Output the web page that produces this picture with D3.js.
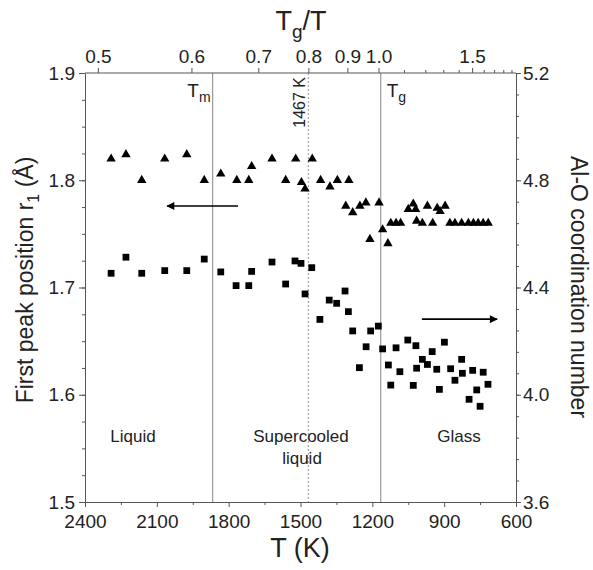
<!DOCTYPE html>
<html lang="en">
<head>
<meta charset="utf-8">
<title>Al-O first peak and coordination</title>
<script src="https://d3js.org/d3.v7.min.js"></script>
<style>
  body { margin: 0; background: #fff; }
  svg text { font-family: "Liberation Sans", Arial, sans-serif; fill: #222; }
  .axis path, .axis line { stroke: #555; }
</style>
</head>
<body>
<div id="chart"></div>
<script>

// ---- data ----
// triangles: first peak position r1 (left axis)
var triT  = [2291, 2229, 2163, 2067, 1975, 1902, 1833, 1766, 1716, 1704, 1619, 1562, 1520, 1496, 1481,
             1451, 1416, 1377, 1346, 1298, 1311, 1282, 1252, 1227, 1172, 1210, 1157, 1135, 1123, 1101,
             1082, 1050, 1029, 1019, 1015, 991, 970, 948, 929, 917, 896, 876, 855, 827, 799, 778, 758, 737, 716];
var triR1 = [1.820, 1.824, 1.800, 1.820, 1.824, 1.800, 1.806, 1.800, 1.800, 1.813, 1.820, 1.800, 1.820, 1.798, 1.792,
             1.820, 1.800, 1.794, 1.800, 1.800, 1.776, 1.770, 1.776, 1.779, 1.779, 1.745, 1.754, 1.741, 1.760, 1.760,
             1.760, 1.773, 1.778, 1.773, 1.762, 1.760, 1.776, 1.760, 1.774, 1.771, 1.776, 1.760, 1.760, 1.760, 1.760, 1.760, 1.760, 1.760, 1.760];

// squares: Al-O coordination number (right axis)
var sqT  = [2291, 2229, 2163, 2067, 1975, 1902, 1833, 1769, 1716, 1704, 1619, 1562, 1523, 1498, 1481, 1453,
            1419, 1380, 1349, 1314, 1300, 1282, 1254, 1226, 1207, 1175, 1157, 1133, 1123, 1101, 1085, 1052,
            1029, 1018, 1015, 991, 970, 950, 931, 920, 899, 873, 855, 827, 824, 796, 781, 764, 750, 737, 717];
var sqCN = [4.453, 4.513, 4.453, 4.463, 4.463, 4.506, 4.458, 4.407, 4.407, 4.460, 4.495, 4.413, 4.499, 4.490, 4.376, 4.474,
            4.281, 4.353, 4.341, 4.387, 4.310, 4.238, 4.101, 4.179, 4.238, 4.256, 4.171, 4.111, 4.036, 4.175, 4.086, 4.204,
            4.035, 4.183, 4.099, 4.132, 4.113, 4.161, 4.095, 4.020, 4.196, 4.097, 4.054, 4.132, 4.080, 3.983, 4.091, 4.018, 3.957, 4.084, 4.039];

// axis ticks
var tTicks      = [2400, 2100, 1800, 1500, 1200, 900, 600];
var tMinor      = [2250, 1950, 1650, 1350, 1050, 750];
var r1Ticks     = [1.5, 1.6, 1.7, 1.8, 1.9];
var cnTicks     = [3.6, 4.0, 4.4, 4.8, 5.2];
var tgMajor     = [0.5, 0.6, 0.7, 0.8, 0.9, 1.0, 1.5];
var tgMinor     = [1.1, 1.2, 1.3, 1.4, 1.6, 1.7, 1.8, 1.9];

// reference temperatures
var Tg = 1172, TgLine = 1165, Tm = 1867, Tx = 1467;

// ---- layout ----
var width = 593, height = 570;
var pLeft = 85, pRight = 516, pTop = 73, pBottom = 502;

var svg = d3.select("#chart").append("svg")
    .attr("width", width)
    .attr("height", height);

var x = d3.scaleLinear().domain([2400, 600]).range([pLeft, pRight]);
var yL = d3.scaleLinear().domain([1.5, 1.9]).range([pBottom, pTop]);
var yR = d3.scaleLinear().domain([3.6, 5.2]).range([pBottom, pTop]);

// reference lines
svg.append("line")
    .attr("x1", x(Tm)).attr("x2", x(Tm))
    .attr("y1", pTop).attr("y2", pBottom)
    .style("stroke", "#999").style("stroke-width", 1.2);
svg.append("line")
    .attr("x1", x(TgLine)).attr("x2", x(TgLine))
    .attr("y1", pTop).attr("y2", pBottom)
    .style("stroke", "#999").style("stroke-width", 1.2);
svg.append("line")
    .attr("x1", x(Tx)).attr("x2", x(Tx))
    .attr("y1", pTop).attr("y2", pBottom)
    .style("stroke", "#aaa").style("stroke-width", 1.3)
    .style("stroke-dasharray", "2,2");

// bottom axis
svg.append("g").attr("class", "axis")
    .attr("transform", "translate(0," + pBottom + ")")
    .call(d3.axisBottom(x).tickValues(tTicks).tickSize(5).tickSizeOuter(0).tickPadding(8).tickFormat(d3.format("d")))
    .call(g => g.selectAll("text").style("font-size", "19px"));
svg.append("g").attr("class", "axis")
    .attr("transform", "translate(0," + pBottom + ")")
    .call(d3.axisBottom(x).tickValues(tMinor).tickSize(3).tickSizeOuter(0).tickFormat(""))
    .call(g => g.select(".domain").remove());

// left axis
svg.append("g").attr("class", "axis")
    .attr("transform", "translate(" + pLeft + ",0)")
    .call(d3.axisLeft(yL).tickValues(r1Ticks).tickSize(6).tickSizeOuter(0).tickPadding(4).tickFormat(d3.format(".1f")))
    .call(g => g.selectAll("text").style("font-size", "19px"));
svg.append("g").attr("class", "axis")
    .attr("transform", "translate(" + pLeft + ",0)")
    .call(d3.axisLeft(yL).tickValues(d3.range(1.525, 1.9, 0.025)).tickSize(3).tickSizeOuter(0).tickFormat(""))
    .call(g => g.select(".domain").remove());

// right axis
svg.append("g").attr("class", "axis")
    .attr("transform", "translate(" + pRight + ",0)")
    .call(d3.axisRight(yR).tickValues(cnTicks).tickSize(5).tickSizeOuter(0).tickPadding(2).tickFormat(d3.format(".1f")))
    .call(g => g.selectAll("text").style("font-size", "19px"));
svg.append("g").attr("class", "axis")
    .attr("transform", "translate(" + pRight + ",0)")
    .call(d3.axisRight(yR).tickValues(d3.range(3.68, 5.19, 0.08)).tickSize(3).tickSizeOuter(0).tickFormat(""))
    .call(g => g.select(".domain").remove());

// top axis: Tg/T, position from the T scale
var topAxis = svg.append("g").attr("class", "axis");
topAxis.append("line")
    .attr("x1", pLeft).attr("x2", pRight)
    .attr("y1", pTop).attr("y2", pTop);
topAxis.selectAll(".major")
    .data(tgMajor).enter().append("line")
    .attr("class", "major")
    .attr("x1", d => x(Tg / d)).attr("x2", d => x(Tg / d))
    .attr("y1", pTop).attr("y2", pTop - 5);
topAxis.selectAll(".minor")
    .data(tgMinor).enter().append("line")
    .attr("class", "minor")
    .attr("x1", d => x(Tg / d)).attr("x2", d => x(Tg / d))
    .attr("y1", pTop).attr("y2", pTop - 3);
topAxis.selectAll("text")
    .data(tgMajor).enter().append("text")
    .attr("x", d => x(Tg / d))
    .attr("y", pTop - 10)
    .attr("text-anchor", "middle")
    .style("font-size", "19px")
    .text(d => d3.format(".1f")(d));

// markers
svg.append("g").selectAll("path")
    .data(triT).enter().append("path")
    .attr("transform", (d, i) => "translate(" + x(d) + "," + yL(triR1[i]) + ")")
    .attr("d", d3.symbol().type(d3.symbolTriangle).size(38))
    .style("fill", "#000");
svg.append("g").selectAll("path")
    .data(sqT).enter().append("path")
    .attr("transform", (d, i) => "translate(" + x(d) + "," + yR(sqCN[i]) + ")")
    .attr("d", d3.symbol().type(d3.symbolSquare).size(46))
    .style("fill", "#000");

// arrows
var defs = svg.append("defs");
defs.append("marker")
    .attr("id", "head")
    .attr("viewBox", "0 0 10 10")
    .attr("refX", 9).attr("refY", 5)
    .attr("markerWidth", 6).attr("markerHeight", 5)
    .attr("markerUnits", "strokeWidth")
    .attr("orient", "auto")
  .append("path")
    .attr("d", "M0,0 L10,5 L0,10 Z")
    .style("fill", "#000");
svg.append("line")
    .attr("x1", x(1761)).attr("x2", x(2057))
    .attr("y1", yL(1.776)).attr("y2", yL(1.776))
    .style("stroke", "#000").style("stroke-width", 1.6)
    .attr("marker-end", "url(#head)");
svg.append("line")
    .attr("x1", x(993)).attr("x2", x(679))
    .attr("y1", yR(4.282)).attr("y2", yR(4.282))
    .style("stroke", "#000").style("stroke-width", 1.6)
    .attr("marker-end", "url(#head)");

// line labels
var tmLabel = svg.append("text")
    .attr("x", x(Tm) - 2).attr("y", 97)
    .attr("text-anchor", "end")
    .style("font-size", "19px");
tmLabel.append("tspan").text("T");
tmLabel.append("tspan").attr("dy", 5).style("font-size", "14px").text("m");

var tgLabel = svg.append("text")
    .attr("x", x(TgLine) + 6).attr("y", 97)
    .style("font-size", "19px");
tgLabel.append("tspan").text("T");
tgLabel.append("tspan").attr("dy", 5).style("font-size", "14px").text("g");

svg.append("text")
    .attr("transform", "translate(" + (x(Tx) - 3) + ",77) rotate(-90)")
    .attr("text-anchor", "end")
    .style("font-size", "16px")
    .text("1467 K");

// region labels
svg.append("text").attr("x", 133).attr("y", 442)
    .attr("text-anchor", "middle").style("font-size", "17px").text("Liquid");
svg.append("text").attr("x", 301).attr("y", 442)
    .attr("text-anchor", "middle").style("font-size", "17px").text("Supercooled");
svg.append("text").attr("x", 302).attr("y", 464)
    .attr("text-anchor", "middle").style("font-size", "17px").text("liquid");
svg.append("text").attr("x", 459).attr("y", 442)
    .attr("text-anchor", "middle").style("font-size", "17px").text("Glass");

// axis titles
svg.append("text")
    .attr("x", 300).attr("y", 557)
    .attr("text-anchor", "middle")
    .style("font-size", "27px")
    .text("T (K)");

var topTitle = svg.append("text")
    .attr("x", 301).attr("y", 30)
    .attr("text-anchor", "middle")
    .style("font-size", "27px");
topTitle.append("tspan").text("T");
topTitle.append("tspan").attr("dy", 8).style("font-size", "19px").text("g");
topTitle.append("tspan").attr("dy", -8).text("/T");

var leftTitle = svg.append("text")
    .attr("transform", "translate(33,280) rotate(-90)")
    .attr("text-anchor", "middle")
    .style("font-size", "23px");
leftTitle.append("tspan").text("First peak position r");
leftTitle.append("tspan").attr("dy", 6).style("font-size", "16px").text("1");
leftTitle.append("tspan").attr("dy", -6).text(" (Å)");

svg.append("text")
    .attr("transform", "translate(571,287) rotate(90)")
    .attr("text-anchor", "middle")
    .style("font-size", "23px")
    .text("Al-O coordination number");

</script>
</body>
</html>
